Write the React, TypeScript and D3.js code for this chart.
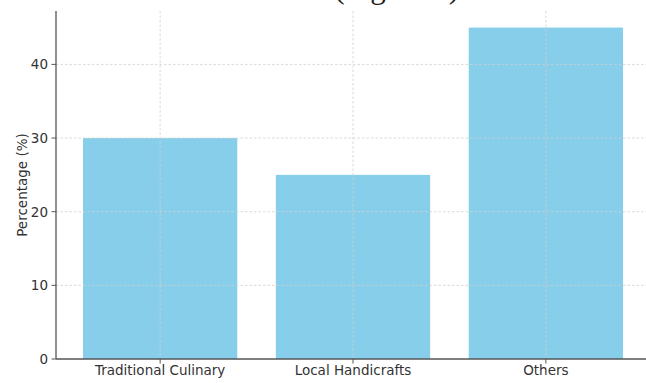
import React from "react";
import * as d3 from "d3";

const categories = ["Traditional Culinary", "Local Handicrafts", "Others"];
const percentages = [30, 25, 45];
const yTicks = [0, 10, 20, 30, 40];

const width = 646;
const height = 383;
const margin = { top: 11, right: -4, bottom: 24, left: 56 };

const App: React.FC = () => {
  const barWidth = 0.8;
  const pad = (categories.length - 1 + barWidth) * 0.05;

  // matplotlib-style continuous x positions for the bars
  const xScale = d3
    .scaleLinear()
    .domain([-barWidth / 2 - pad, categories.length - 1 + barWidth / 2 + pad])
    .range([margin.left, width - margin.right]);

  const yMax = (d3.max(percentages) || 0) * 1.05;
  const yScale = d3
    .scaleLinear()
    .domain([0, yMax])
    .range([height - margin.bottom, margin.top]);

  const font = "'DejaVu Sans', sans-serif";
  const axisColor = "#555";
  const gridColor = "#cfcfcf";

  return (
    <svg
      width={width}
      height={height}
      style={{ position: "absolute", left: 0, top: 0, background: "#fff" }}
    >
      {/* caption from the page above, mostly cropped away */}
      <text
        x={459}
        y={-2.5}
        textAnchor="end"
        fontSize={31}
        fontFamily="'Liberation Serif', serif"
        fill="#222"
      >
        Tourism Interests (Figure 1)
      </text>

      {/* Bars */}
      {categories.map((c, i) => (
        <rect
          key={c}
          x={xScale(i - barWidth / 2)}
          y={yScale(percentages[i])}
          width={xScale(i + barWidth / 2) - xScale(i - barWidth / 2)}
          height={yScale(0) - yScale(percentages[i])}
          fill="#87CEEB"
        />
      ))}

      {/* Grid */}
      {yTicks.slice(1).map((t) => (
        <line
          key={"gy" + t}
          x1={margin.left}
          x2={width}
          y1={yScale(t)}
          y2={yScale(t)}
          stroke={gridColor}
          strokeWidth={0.8}
          strokeDasharray="2.5,2"
        />
      ))}
      {categories.map((c, i) => (
        <line
          key={"gx" + c}
          x1={xScale(i)}
          x2={xScale(i)}
          y1={margin.top}
          y2={yScale(0)}
          stroke={gridColor}
          strokeWidth={0.8}
          strokeDasharray="2.5,2"
        />
      ))}

      {/* Y axis */}
      <line
        x1={margin.left}
        x2={margin.left}
        y1={margin.top}
        y2={yScale(0)}
        stroke={axisColor}
        strokeWidth={1.3}
      />
      {yTicks.map((t) => (
        <g key={"ty" + t}>
          <line
            x1={margin.left - 4.5}
            x2={margin.left}
            y1={yScale(t)}
            y2={yScale(t)}
            stroke={axisColor}
            strokeWidth={1}
          />
          <text
            x={margin.left - 8}
            y={yScale(t)}
            textAnchor="end"
            dominantBaseline="central"
            fontSize={13.5}
            fontFamily={font}
            fill="#333"
          >
            {t}
          </text>
        </g>
      ))}
      <text
        transform={`translate(22, ${(margin.top + yScale(0)) / 2}) rotate(-90)`}
        textAnchor="middle"
        dominantBaseline="central"
        fontSize={13.5}
        fontFamily={font}
        fill="#333"
      >
        Percentage (%)
      </text>

      {/* X axis */}
      <line
        x1={margin.left}
        x2={width}
        y1={yScale(0)}
        y2={yScale(0)}
        stroke={axisColor}
        strokeWidth={1.3}
      />
      {categories.map((c, i) => (
        <g key={"tx" + c}>
          <line
            x1={xScale(i)}
            x2={xScale(i)}
            y1={yScale(0)}
            y2={yScale(0) + 4.5}
            stroke={axisColor}
            strokeWidth={1}
          />
          <text
            x={xScale(i)}
            y={yScale(0) + 16}
            textAnchor="middle"
            fontSize={13.5}
            fontFamily={font}
            fill="#333"
          >
            {c}
          </text>
        </g>
      ))}
    </svg>
  );
};

export default App;
